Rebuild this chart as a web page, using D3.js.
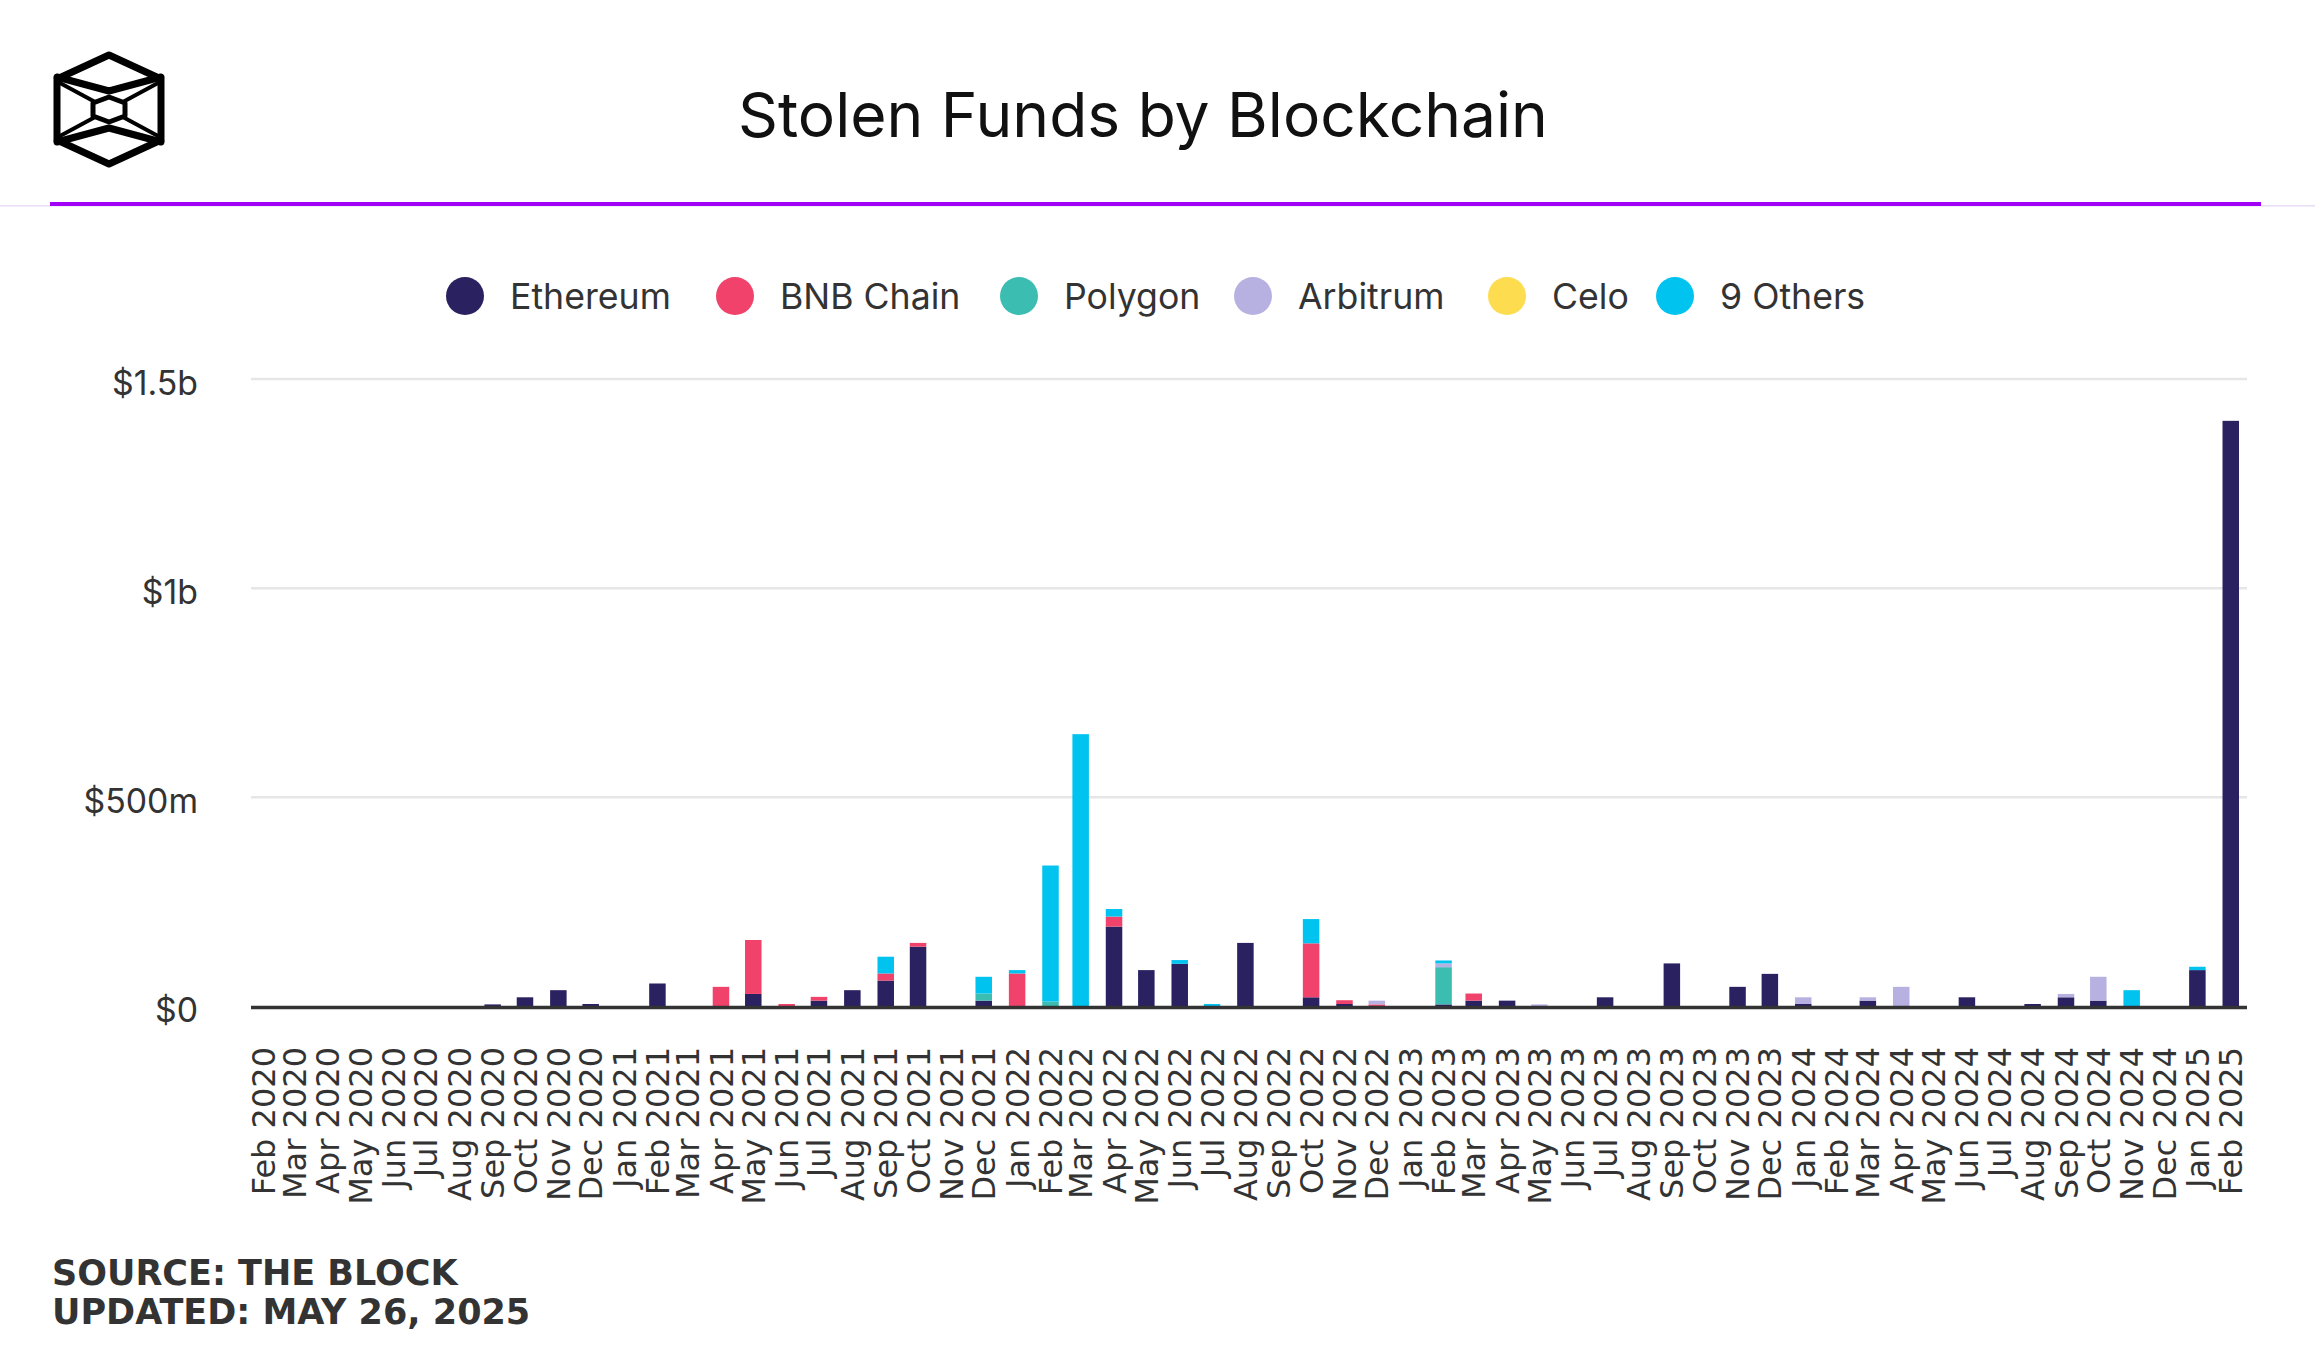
<!DOCTYPE html>
<html>
<head>
<meta charset="utf-8">
<script src="https://cdn.jsdelivr.net/npm/d3@7"></script>
<style>
  html, body { margin: 0; padding: 0; background: #fff; }
  svg { display: block; }
</style>
</head>
<body>
<svg id="chart" width="2315" height="1350"></svg>
<script>
// ---------------- DATA ----------------
const months = [
  "Feb 2020","Mar 2020","Apr 2020","May 2020","Jun 2020","Jul 2020","Aug 2020","Sep 2020","Oct 2020","Nov 2020","Dec 2020",
  "Jan 2021","Feb 2021","Mar 2021","Apr 2021","May 2021","Jun 2021","Jul 2021","Aug 2021","Sep 2021","Oct 2021","Nov 2021","Dec 2021",
  "Jan 2022","Feb 2022","Mar 2022","Apr 2022","May 2022","Jun 2022","Jul 2022","Aug 2022","Sep 2022","Oct 2022","Nov 2022","Dec 2022",
  "Jan 2023","Feb 2023","Mar 2023","Apr 2023","May 2023","Jun 2023","Jul 2023","Aug 2023","Sep 2023","Oct 2023","Nov 2023","Dec 2023",
  "Jan 2024","Feb 2024","Mar 2024","Apr 2024","May 2024","Jun 2024","Jul 2024","Aug 2024","Sep 2024","Oct 2024","Nov 2024","Dec 2024",
  "Jan 2025","Feb 2025"
];
// values in $ millions, one per month above
const ethereum = [
  0,0,0,0,0,0,0,5,22,39,6,
  0,55,0,0,30,0,14,39,62,143,0,14,
  0,0,0,191,87,102,0,152,0,22,6,0,
  0,5,14,14,0,0,22,0,103,0,47,78,
  6,0,14,0,0,22,0,6,22,14,0,0,
  87,1400
];
const bnbChain = [
  0,0,0,0,0,0,0,0,0,0,0,
  0,0,0,47,129,6,9,0,17,9,0,0,
  79,0,0,24,0,0,0,0,0,129,9,5,
  0,0,17,0,0,0,0,0,0,0,0,0,
  0,0,0,0,0,0,0,0,0,0,0,0,
  0,0
];
const polygon = [
  0,0,0,0,0,0,0,0,0,0,0,
  0,0,0,0,0,0,0,0,0,0,0,17,
  0,12,0,0,0,0,0,0,0,0,0,0,
  0,89,0,0,0,0,0,0,0,0,0,0,
  0,0,0,0,0,0,0,0,0,0,0,0,
  0,0
];
const arbitrum = [
  0,0,0,0,0,0,0,0,0,0,0,
  0,0,0,0,0,0,0,0,0,0,0,0,
  0,0,0,0,0,0,0,0,0,0,0,9,
  0,9,0,0,5,0,0,0,0,0,0,0,
  16,0,8,47,0,0,0,0,8,57,0,0,
  0,0
];
const celo = [
  0,0,0,0,0,0,0,0,0,0,0,
  0,0,0,0,0,0,0,0,0,0,0,0,
  0,0,0,0,0,0,0,0,0,0,0,0,
  0,0,0,0,0,0,0,0,0,0,0,0,
  0,0,0,0,0,0,0,0,0,0,0,0,
  0,0
];
const others = [
  0,0,0,0,0,0,0,0,0,0,0,
  0,0,0,0,0,0,0,0,40,0,0,40,
  8,325,651,18,0,9,6,0,0,58,0,0,
  0,7,0,0,0,0,0,0,0,0,0,0,
  0,0,0,0,0,0,0,0,0,0,39,0,
  8,0
];
const seriesNames = ["Ethereum","BNB Chain","Polygon","Arbitrum","Celo","9 Others"];
const seriesColors = ["#2a2160","#f0426a","#3bbdb2","#b7b1e2","#fddc4f","#00c3f0"];
const yTicks = [0, 500, 1000, 1500];
const yTickLabels = ["$0","$500m","$1b","$1.5b"];

// ---------------- SETUP ----------------
const svg = d3.select("#chart");
const W = 2315, H = 1350;
const plotLeft = 251, plotRight = 2247, plotBottom = 1006.5, plotTop = 379;

const parseMonth = d3.utcParse("%b %Y");
const seriesData = [ethereum, bnbChain, polygon, arbitrum, celo, others];
const rows = months.map((m, i) => {
  const r = { date: parseMonth(m), label: m };
  seriesNames.forEach((s, j) => r[s] = seriesData[j][i]);
  return r;
});

const x = d3.scaleUtc()
  .domain([new Date(Date.UTC(2020, 0, 20, 14)), new Date(Date.UTC(2025, 1, 16, 2))])
  .range([plotLeft, plotRight]);
const y = d3.scaleLinear().domain([0, 1500]).range([plotBottom, plotTop]);
const barW = 16.5;

// ---------------- HEADER ----------------
// logo
const logo = svg.append("g").attr("fill", "none").attr("stroke", "#000")
  .attr("stroke-width", 7).attr("stroke-linejoin", "round").attr("stroke-linecap", "round");
const L = { cx: 109, top: 55, bot: 164, l: 57, r: 161, yt: 79, yb: 140 };
logo.append("path").attr("d", `M${L.cx},${L.top} L${L.r},${L.yt} L${L.r},${L.yb} L${L.cx},${L.bot} L${L.l},${L.yb} L${L.l},${L.yt} Z`);
logo.append("path").attr("d", `M${L.l},${L.yt-2} L${L.cx},${91} L${L.r},${L.yt-2}`);
logo.append("path").attr("d", `M${L.l},${L.yb+2} L${L.cx},${128} L${L.r},${L.yb+2}`);
logo.append("path").attr("stroke-width", 4).attr("d", `M${L.l+3},${L.yt+4} L${L.r-3},${L.yb-4} M${L.r-3},${L.yt+4} L${L.l+3},${L.yb-4}`);
logo.append("path").attr("fill", "#fff").attr("stroke-width", 5)
  .attr("d", `M109,97 L125,103 L125,116 L109,122 L93,116 L93,103 Z`);

// title
const title = svg.append("text")
  .attr("x", 1143).attr("y", 137)
  .attr("text-anchor", "middle")
  .attr("font-family", "Inter, Roboto, sans-serif")
  .attr("font-size", 64)
  .attr("fill", "#111")
  .text("Stolen Funds by Blockchain");
{
  const w = title.node().getComputedTextLength();
  title.attr("font-size", 64 * 810 / w);
}

// header rules
svg.append("rect").attr("x", 0).attr("y", 205).attr("width", W).attr("height", 1.5).attr("fill", "#eadcf5");
svg.append("rect").attr("x", 50).attr("y", 202).attr("width", 2261 - 50).attr("height", 4).attr("fill", "#a000f5");

// ---------------- LEGEND ----------------
const legendFont = "Inter, Roboto, sans-serif";
const legendCx = [465, 735, 1019, 1253, 1507, 1675]; // layout: marker centres
const probe = svg.append("text").attr("font-family", legendFont).attr("font-size", 36).text("Ethereum");
const legendSize = 36 * 161 / probe.node().getComputedTextLength();
probe.remove();
const legend = svg.append("g");
seriesNames.forEach((name, i) => {
  const g = legend.append("g");
  g.append("circle").attr("cx", legendCx[i]).attr("cy", 296).attr("r", 19).attr("fill", seriesColors[i]);
  g.append("text").attr("x", legendCx[i] + 45).attr("y", 296).attr("dy", "0.36em")
    .attr("font-family", legendFont).attr("font-size", legendSize).attr("fill", "#333").text(name);
});

// ---------------- GRID & Y AXIS ----------------
const probeY = svg.append("text").attr("font-family", legendFont).attr("font-size", 34).text("$1.5b");
const yFont = 34 * 86 / probeY.node().getComputedTextLength();
probeY.remove();

svg.append("g").selectAll("line").data(yTicks.filter(d => d > 0)).join("line")
  .attr("x1", plotLeft).attr("x2", plotRight)
  .attr("y1", d => y(d)).attr("y2", d => y(d))
  .attr("stroke", "#e6e6e6").attr("stroke-width", 2.5);

svg.append("g").selectAll("text").data(yTicks).join("text")
  .attr("x", 198).attr("y", d => y(d) + 4).attr("dy", "0.35em")
  .attr("text-anchor", "end")
  .attr("font-family", legendFont).attr("font-size", yFont).attr("fill", "#333")
  .text((d, i) => yTickLabels[i]);

// ---------------- BARS ----------------
const stack = d3.stack().keys(seriesNames);
const stacked = stack(rows);
svg.append("g").selectAll("g").data(stacked).join("g")
  .attr("fill", (d, i) => seriesColors[i])
  .selectAll("rect").data(d => d.filter(p => p[1] - p[0] > 0)).join("rect")
  .attr("x", d => x(d.data.date) - barW / 2)
  .attr("width", barW)
  .attr("y", d => y(d[1]))
  .attr("height", d => y(d[0]) - y(d[1]));

// ---------------- X AXIS ----------------
svg.append("line").attr("x1", plotLeft).attr("x2", plotRight)
  .attr("y1", plotBottom + 1).attr("y2", plotBottom + 1)
  .attr("stroke", "#333").attr("stroke-width", 3.5);

svg.append("g").selectAll("text").data(rows).join("text")
  .attr("transform", d => `translate(${x(d.date)},1047) rotate(-90)`)
  .attr("dy", "0.36em")
  .attr("text-anchor", "end")
  .attr("font-family", "DejaVu Sans, sans-serif")
  .attr("font-size", 32)
  .attr("fill", "#333")
  .text(d => d.label);

// ---------------- FOOTER ----------------
const foot = svg.append("g").attr("font-family", "DejaVu Sans, sans-serif")
  .attr("font-weight", "bold").attr("font-size", 35).attr("fill", "#333");
foot.append("text").attr("x", 52).attr("y", 1285).text("SOURCE: THE BLOCK");
foot.append("text").attr("x", 52).attr("y", 1324).text("UPDATED: MAY 26, 2025");
</script>
</body>
</html>
